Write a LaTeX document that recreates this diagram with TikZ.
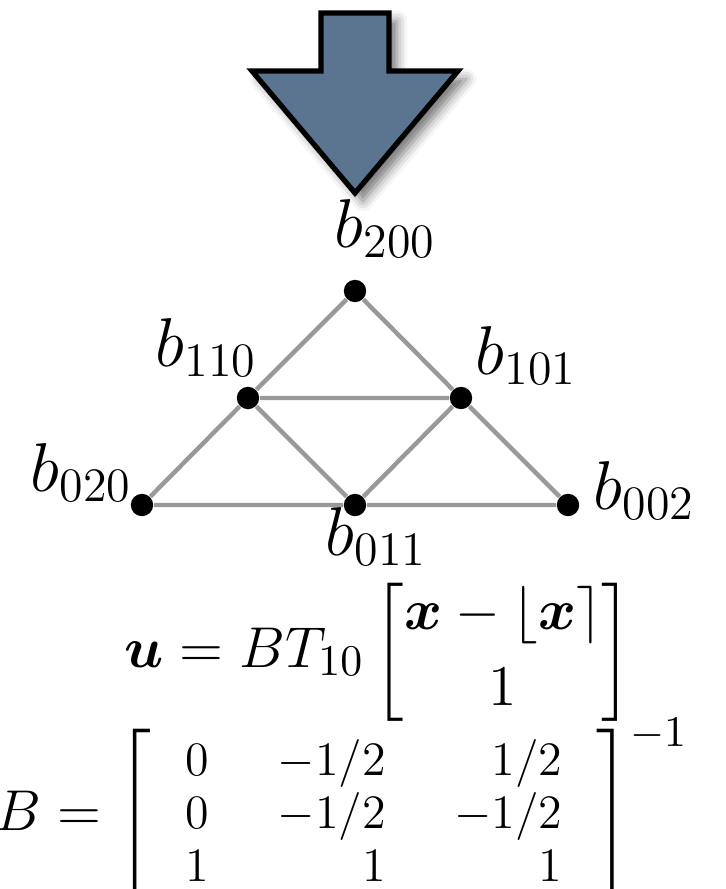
\documentclass[tikz,border=0pt]{standalone}
\usepackage{amsmath,bm}
\usetikzlibrary{shadows.blur}
\definecolor{arrowfill}{HTML}{5B7591}
\definecolor{edgegray}{HTML}{999999}
\tikzset{
  dot/.style={circle,fill=black,inner sep=0pt,minimum size=5.6pt},
  edge/.style={draw=edgegray,line width=1.1pt},
  lab/.style={inner sep=0pt,anchor=base west,font=\fontsize{16.5}{19}\selectfont},
}
\begin{document}
\begin{tikzpicture}[x=0.25pt,y=-0.25pt]
\useasboundingbox (0,0) rectangle (726,889);
% arrow
\path[draw=black,line width=1.3pt,fill=arrowfill,line join=miter,
  blur shadow={shadow xshift=2pt,shadow yshift=-2pt,shadow blur radius=2.6pt,shadow opacity=55}]
  (321,13) -- (389,13) -- (389,71) -- (458,71) -- (355,193) -- (252,71) -- (321,71) -- cycle;
% control points
\node[dot] (b200) at (355,291) {};
\node[dot] (b110) at (248,398) {};
\node[dot] (b101) at (461,398) {};
\node[dot] (b020) at (142,505) {};
\node[dot] (b011) at (355,505) {};
\node[dot] (b002) at (568,505) {};
\draw[edge] (b200) -- (b110) -- (b020) -- (b011) -- (b002) -- (b101) -- (b200);
\draw[edge] (b110) -- (b101) -- (b011) -- (b110);
% labels
\node[lab] (l200) at (334,247) {$b_{200}$};
\node[lab] (l110) at (155,366) {$b_{110}$};
\node[lab] (l101) at (475,374) {$b_{101}$};
\node[lab] (l020) at (30,491) {$b_{020}$};
\node[lab] (l002) at (593,509) {$b_{002}$};
\node[lab] (l011) at (325,555) {$b_{011}$};
% formulas
\node[inner sep=0pt,anchor=base east] (f1) at (633,667)
  {\fontsize{15.75}{19}\selectfont $\bm{u} = BT_{10}\begin{bmatrix}\bm{x}-\lfloor\bm{x}\rceil\\ 1\end{bmatrix}$};
\node[inner sep=0pt,anchor=base west] (f2) at (-5,830)
  {\fontsize{15.5}{18}\selectfont $B = \left[\mbox{\fontsize{12}{13.25}\selectfont\setlength{\arraycolsep}{8.6pt}$\begin{array}{crr}0 & -1/2 & 1/2\\ 0 & -1/2 & -1/2\\ 1 & 1 & 1\end{array}$}\right]^{-1}$};
\end{tikzpicture}
\end{document}
